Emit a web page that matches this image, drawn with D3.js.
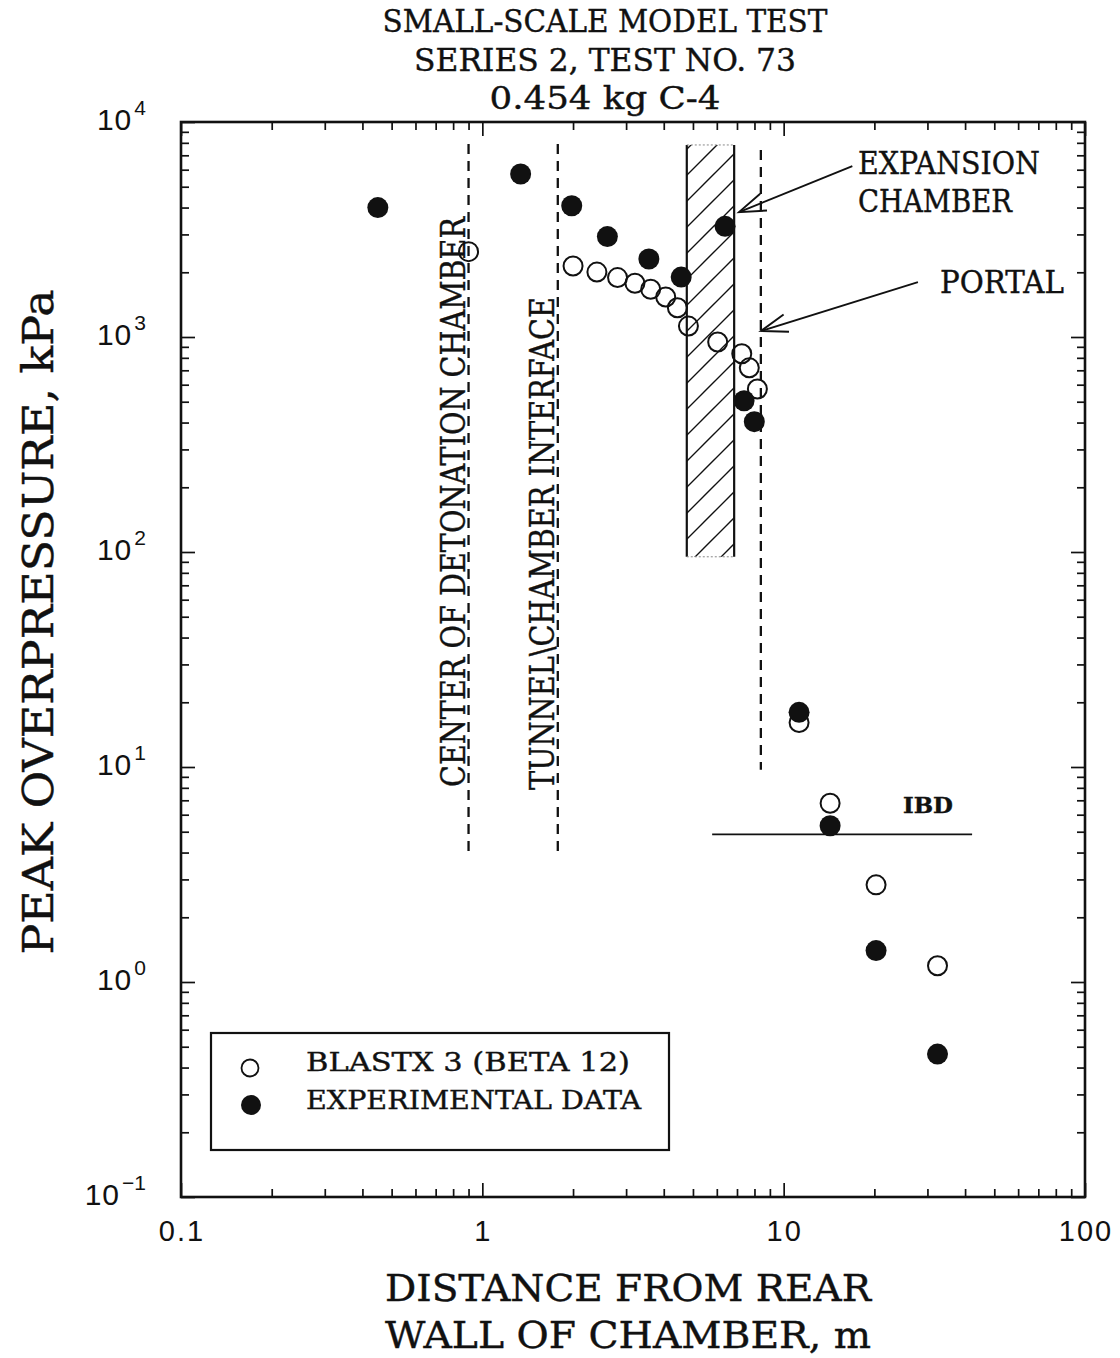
<!DOCTYPE html>
<html>
<head>
<meta charset="utf-8">
<script src="https://cdn.jsdelivr.net/npm/d3@7"></script>
<style>
  html, body { margin: 0; padding: 0; background: #fff; }
  svg { display: block; }
  .serif { font-family: 'DejaVu Serif', 'Liberation Serif', serif; fill: #111; stroke: #111; stroke-width: 0.4; }
</style>
</head>
<body>
<svg id="chart" width="1120" height="1358"></svg>
<script>
// ---- Chart text ----
const titleLines = ["SMALL-SCALE MODEL TEST", "SERIES 2, TEST NO. 73", "0.454 kg C-4"];
const xTitleLines = ["DISTANCE FROM REAR", "WALL OF CHAMBER, m"];
const yTitle = "PEAK OVERPRESSURE, kPa";
const legendLabels = ["BLASTX 3 (BETA 12)", "EXPERIMENTAL DATA"];

// ---- Axis ticks ----
const xTickValues = [0.1, 1, 10, 100];
const xTickLabels = ["0.1", "1", "10", "100"];
const yTickValues = [0.1, 1, 10, 100, 1000, 10000];
const yTickExponents = ["\u22121", "0", "1", "2", "3", "4"];

// ---- BLASTX 3 (BETA 12) calculation: distance (m) / peak overpressure (kPa) ----
const blastxDistance = [0.90, 2.00, 2.40, 2.81, 3.21, 3.62, 4.06, 4.44, 4.83, 6.04, 7.26, 7.69, 8.18, 11.25, 14.26, 20.26, 32.4];
const blastxPressure = [2495, 2138, 2004, 1889, 1778, 1667, 1535, 1368, 1124, 948, 836, 719, 573, 16.1, 6.78, 2.83, 1.19];

// ---- Experimental data ----
const experimentDistance = [0.45, 1.34, 1.98, 2.60, 3.57, 4.57, 6.39, 7.39, 7.99, 11.25, 14.26, 20.26, 32.4];
const experimentPressure = [4000, 5730, 4080, 2930, 2306, 1900, 3270, 505, 404, 17.96, 5.33, 1.40, 0.462];

// ---- Reference lines (distance, extent in kPa) ----
const markerNames = ["CENTER OF DETONATION CHAMBER", "TUNNEL\\CHAMBER INTERFACE", "PORTAL"];
const markerDistance = [0.90, 1.78, 8.40];
const markerTop = [7900, 7900, 7400];
const markerBottom = [3.9, 3.9, 9.7];

// ---- Expansion chamber extent ----
const chamberDistance = [4.77, 6.85];
const chamberPressure = [95, 7820];

// ---- Inhabited building distance ----
const ibdPressure = 4.86;
const ibdDistance = [5.79, 42.2];

// ---- Callout arrows: [tail distance, tail kPa, tip distance, tip kPa] ----
const expansionArrow = [16.9, 6240, 7.11, 3810];
const portalArrow = [27.9, 1800, 8.41, 1067];

// ---------------------------------------------------------------
const svg = d3.select("#chart");
const plotL = 181, plotR = 1085, plotT = 122, plotB = 1197;
const x = d3.scaleLog().domain([0.1, 100]).range([plotL, plotR]);
const y = d3.scaleLog().domain([0.1, 10000]).range([plotB, plotT]);

const sans = "'Liberation Sans', Arial, sans-serif";

function minorTicks(lo, hi) {
  const out = [];
  for (let d = lo; d < hi; d *= 10) for (let k = 2; k <= 9; k++) out.push(+(k * d).toPrecision(3));
  return out;
}
const xMinor = minorTicks(0.1, 100), yMinor = minorTicks(0.1, 10000);

// Hatch pattern for the expansion chamber
const defs = svg.append("defs");
const pat = defs.append("pattern").attr("id", "hatch").attr("patternUnits", "userSpaceOnUse")
  .attr("width", 26).attr("height", 26).attr("y", 4);
pat.append("path").attr("d", "M0,26 L26,0 M-6.5,6.5 L6.5,-6.5 M19.5,32.5 L32.5,19.5")
  .attr("stroke", "#111").attr("stroke-width", 1.4);

// ---- Axes: inward ticks on all four sides ----
function tickAxis(axisFn, scale, values, size, tx, ty) {
  svg.append("g").attr("transform", `translate(${tx},${ty})`)
    .call(axisFn(scale).tickValues(values).tickSize(size).tickFormat(""))
    .call(g => g.select(".domain").remove())
    .call(g => g.selectAll("line").attr("stroke", "#111").attr("stroke-width", 1.7));
}
tickAxis(d3.axisBottom, x, xMinor, -8, 0, plotB);
tickAxis(d3.axisBottom, x, xTickValues, -14, 0, plotB);
tickAxis(d3.axisTop, x, xMinor, -8, 0, plotT);
tickAxis(d3.axisTop, x, xTickValues, -14, 0, plotT);
tickAxis(d3.axisLeft, y, yMinor, -8, plotL, 0);
tickAxis(d3.axisLeft, y, yTickValues, -14, plotL, 0);
tickAxis(d3.axisRight, y, yMinor, -8, plotR, 0);
tickAxis(d3.axisRight, y, yTickValues, -14, plotR, 0);

svg.append("rect").attr("x", plotL).attr("y", plotT).attr("width", plotR - plotL).attr("height", plotB - plotT)
  .attr("fill", "none").attr("stroke", "#111").attr("stroke-width", 2.6);

// Tick labels
svg.append("g").selectAll("text").data(xTickValues).join("text")
  .attr("x", d => x(d) + 1).attr("y", 1241).attr("text-anchor", "middle")
  .attr("font-family", sans).attr("font-size", 29).attr("letter-spacing", 2).attr("fill", "#111")
  .text((d, i) => xTickLabels[i]);

const yl = svg.append("g").selectAll("text").data(yTickValues).join("text")
  .attr("x", 146).attr("y", d => y(d) + 8).attr("text-anchor", "end")
  .attr("font-family", sans).attr("fill", "#111");
yl.append("tspan").attr("font-size", 30).attr("letter-spacing", 1).text("10");
yl.append("tspan").attr("font-size", 21).attr("dy", -15).attr("dx", 2).text((d, i) => yTickExponents[i]);

// ---- Titles ----
const titleWidths = [445, 382, 231];
svg.append("g").selectAll("text").data(titleLines).join("text")
  .attr("class", "serif")
  .attr("x", 605).attr("y", (d, i) => 32 + i * 38.5).attr("text-anchor", "middle")
  .attr("font-size", 32)
  .attr("textLength", (d, i) => titleWidths[i]).attr("lengthAdjust", "spacingAndGlyphs")
  .text(d => d);

svg.append("g").selectAll("text").data(xTitleLines).join("text")
  .attr("class", "serif")
  .attr("x", 628).attr("y", (d, i) => 1301 + i * 47).attr("text-anchor", "middle")
  .attr("font-size", 38)
  .attr("textLength", 486).attr("lengthAdjust", "spacingAndGlyphs")
  .text(d => d);

svg.append("text").attr("class", "serif")
  .attr("transform", "translate(53,622) rotate(-90)").attr("text-anchor", "middle")
  .attr("font-size", 42)
  .attr("textLength", 665).attr("lengthAdjust", "spacingAndGlyphs").text(yTitle);

// ---- Expansion chamber (hatched band) ----
const cx0 = x(chamberDistance[0]), cx1 = x(chamberDistance[1]);
const cy0 = y(chamberPressure[1]), cy1 = y(chamberPressure[0]);
svg.append("rect").attr("x", cx0).attr("y", cy0).attr("width", cx1 - cx0).attr("height", cy1 - cy0)
  .attr("fill", "url(#hatch)");
svg.append("g").selectAll("line").data([cx0, cx1]).join("line")
  .attr("x1", d => d).attr("x2", d => d).attr("y1", cy0).attr("y2", cy1)
  .attr("stroke", "#111").attr("stroke-width", 2.2);
svg.append("g").selectAll("line").data([cy0, cy1]).join("line")
  .attr("x1", cx0).attr("x2", cx1).attr("y1", d => d).attr("y2", d => d)
  .attr("stroke", "#888").attr("stroke-width", 1).attr("stroke-dasharray", "2,2");

// ---- Dashed reference lines ----
svg.append("g").selectAll("line").data(markerDistance).join("line")
  .attr("x1", d => x(d)).attr("x2", d => x(d))
  .attr("y1", (d, i) => y(markerTop[i])).attr("y2", (d, i) => y(markerBottom[i]))
  .attr("stroke", "#111").attr("stroke-width", 2.3).attr("stroke-dasharray", "10,7");

// Rotated labels alongside the first two lines
const rotStart = [787, 790], rotLen = [570, 493];
markerNames.slice(0, 2).forEach((name, i) => {
  svg.append("text").attr("class", "serif")
    .attr("transform", `translate(${x(markerDistance[i]) - 4},${rotStart[i]}) rotate(-90)`)
    .attr("font-size", 33)
    .attr("textLength", rotLen[i]).attr("lengthAdjust", "spacingAndGlyphs")
    .text(name);
});

// ---- IBD line ----
svg.append("line").attr("x1", x(ibdDistance[0])).attr("x2", x(ibdDistance[1]))
  .attr("y1", y(ibdPressure)).attr("y2", y(ibdPressure))
  .attr("stroke", "#111").attr("stroke-width", 1.6);
svg.append("text").attr("class", "serif").attr("x", 903).attr("y", 813)
  .attr("font-weight", "bold").attr("font-size", 22)
  .attr("textLength", 50).attr("lengthAdjust", "spacingAndGlyphs").text("IBD");

// ---- Callouts ----
function arrow(a) {
  const x0 = x(a[0]), y0 = y(a[1]), x1 = x(a[2]), y1 = y(a[3]);
  const ang = Math.atan2(y0 - y1, x0 - x1), L = 28, spread = 0.33;
  const g = svg.append("g").attr("stroke", "#111").attr("stroke-width", 1.9).attr("fill", "none");
  g.append("line").attr("x1", x0).attr("y1", y0).attr("x2", x1).attr("y2", y1);
  g.append("path").attr("d",
    `M${x1 + L * Math.cos(ang + spread)},${y1 + L * Math.sin(ang + spread)} L${x1},${y1} L${x1 + L * Math.cos(ang - spread)},${y1 + L * Math.sin(ang - spread)}`);
}
arrow(expansionArrow);
arrow(portalArrow);

const calloutText = [
  { t: "EXPANSION", x: 858, y: 174, w: 182 },
  { t: "CHAMBER", x: 858, y: 212, w: 154 },
  { t: markerNames[2], x: 940, y: 293, w: 124 }
];
svg.append("g").selectAll("text").data(calloutText).join("text")
  .attr("class", "serif")
  .attr("x", d => d.x).attr("y", d => d.y)
  .attr("font-size", 31)
  .attr("textLength", d => d.w).attr("lengthAdjust", "spacingAndGlyphs")
  .text(d => d.t);

// ---- Data points ----
svg.append("g").selectAll("circle").data(blastxDistance).join("circle")
  .attr("cx", d => x(d)).attr("cy", (d, i) => y(blastxPressure[i])).attr("r", 9.5)
  .attr("fill", "none").attr("stroke", "#111").attr("stroke-width", 2);
svg.append("g").selectAll("circle").data(experimentDistance).join("circle")
  .attr("cx", d => x(d)).attr("cy", (d, i) => y(experimentPressure[i])).attr("r", 10.5)
  .attr("fill", "#111");

// ---- Legend ----
svg.append("rect").attr("x", 211).attr("y", 1033).attr("width", 458).attr("height", 117)
  .attr("fill", "none").attr("stroke", "#111").attr("stroke-width", 2.2);
svg.append("circle").attr("cx", 250).attr("cy", 1068).attr("r", 8.5)
  .attr("fill", "none").attr("stroke", "#111").attr("stroke-width", 1.8);
svg.append("circle").attr("cx", 251).attr("cy", 1105).attr("r", 10).attr("fill", "#111");
const legendWidths = [324, 335];
svg.append("g").selectAll("text").data(legendLabels).join("text")
  .attr("class", "serif")
  .attr("x", 306).attr("y", (d, i) => 1071 + i * 38)
  .attr("font-size", 26)
  .attr("textLength", (d, i) => legendWidths[i]).attr("lengthAdjust", "spacingAndGlyphs")
  .text(d => d);
</script>
</body>
</html>
